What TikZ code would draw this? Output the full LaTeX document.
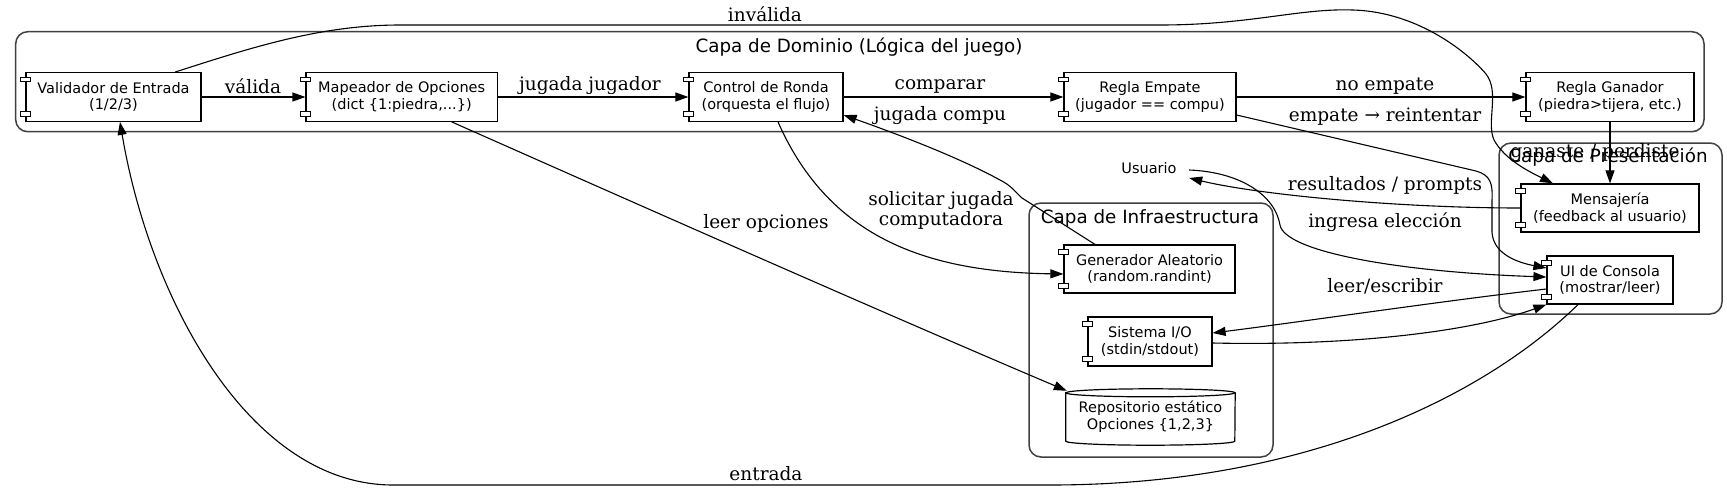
\documentclass[tikz,border=0pt]{standalone}
\usepackage{fontspec}
\newfontfamily\dvsans{DejaVu Sans}
\newfontfamily\dvserif{DejaVu Serif}
\usetikzlibrary{arrows.meta}
\definecolor{clusgray}{HTML}{404040}
\newcommand\cmpfont{\dvsans\fontsize{14.5}{16.7}\selectfont}
\newcommand\elfont{\dvserif\fontsize{18.5}{20}\selectfont}
\newcommand\ctfont{\dvsans\fontsize{18.3}{20}\selectfont}
\tikzset{
  comp/.style={draw, line width=1.2pt, fill=white, minimum height=48.6pt, inner sep=0pt, align=center, font=\cmpfont},
  lbl/.style={font=\elfont, inner sep=0pt, align=center},
  clus/.style={draw=clusgray, line width=1.5pt, rounded corners=12pt},
  ctitle/.style={font=\ctfont, inner sep=0pt},
  edge/.style={line width=1.1pt, -{Triangle[length=13pt,width=9pt]}},
  tab/.style={line width=1pt, fill=white},
}
\begin{document}
\begin{tikzpicture}[x=1pt,y=-1pt]
\useasboundingbox (0,0) rectangle (1727,491);
\fill[white] (0,0) rectangle (1727,491);

% clusters
\draw[clus] (15.7,31.7) rectangle (1704,131.7);
\node[ctitle] (tdom) at (859,46.7) {Capa de Dominio (Lógica del juego)};
\draw[clus] (1499,143) rectangle (1722,314);
\node[ctitle] (tpres) at (1608,157) {Capa de Presentación};
\draw[clus] (1029,203) rectangle (1273,457);
\node[ctitle] (tinf) at (1150,218) {Capa de Infraestructura};

% nodes
\node[comp, minimum width=175pt] (val) at (113.5,97) {Validador de Entrada\\(1/2/3)};
\node[comp, minimum width=191.3pt] (map) at (401.7,97) {Mapeador de Opciones\\(dict \{1:piedra,...\})};
\node[comp, minimum width=154pt] (ctl) at (766,97) {Control de Ronda\\(orquesta el flujo)};
\node[comp, minimum width=172pt] (emp) at (1150,97) {Regla Empate\\(jugador == compu)};
\node[comp, minimum width=168pt] (gan) at (1610,97) {Regla Ganador\\(piedra>tijera, etc.)};
\node[comp, minimum width=178pt, minimum height=48pt] (msg) at (1610,208) {Mensajería\\(feedback al usuario)};
\node[comp, minimum width=126pt, minimum height=48pt] (ui) at (1610,280) {UI de Consola\\(mostrar/leer)};
\node[comp, minimum width=171pt, minimum height=48pt] (gen) at (1149.5,269) {Generador Aleatorio\\(random.randint)};
\node[comp, minimum width=124pt, minimum height=49pt] (sio) at (1150,341.5) {Sistema I/O\\(stdin/stdout)};
\node[inner sep=0pt, minimum width=169pt, minimum height=56pt] (rep) at (1150.5,417) {};
\draw[line width=1.2pt, fill=white] ([yshift=-4pt]rep.north west) -- ([yshift=4pt]rep.south west)
  arc[start angle=180, end angle=360, x radius=84.5pt, y radius=4pt]
  -- ([yshift=-4pt]rep.north east)
  arc[start angle=0, end angle=180, x radius=84.5pt, y radius=4pt] -- cycle;
\draw[line width=1.2pt] ([yshift=-4pt]rep.north west) arc[start angle=180, end angle=360, x radius=84.5pt, y radius=4pt];
\node[inner sep=0pt, align=center, font=\cmpfont] (reptxt) at (rep.center) {Repositorio estático\\Opciones \{1,2,3\}};
\node[inner sep=0pt, minimum width=80pt, minimum height=36pt, font=\cmpfont] (usr) at (1149,168) {Usuario};

% component tabs
\foreach \n in {val,map,ctl,emp,gan,msg,ui,gen,sio} {
  \draw[tab] ([xshift=-4.7pt,yshift=-5pt]\n.north west) rectangle ++(9.4,4.6);
  \draw[tab] ([xshift=-4.7pt,yshift=5.6pt]\n.south west) rectangle ++(9.4,-4.6);
}

% edges
\draw[edge] (val.east) -- (map.west);
\node[lbl] (lvalida) at (253,86) {válida};
\draw[edge] (map.east) -- (ctl.west);
\node[lbl] (ljj) at (590,86) {jugada jugador};
\draw[edge] (ctl.east) -- (emp.west);
\node[lbl] (lcomp) at (940,86) {comparar};
\draw[edge] (emp.east) -- (gan.west);
\node[lbl] (lnoemp) at (1385,86) {no empate};
\draw[edge] (gan.south) -- (msg.north);
\node[lbl] (lgan) at (1595,153) {ganaste / perdiste};

\draw[edge] ([xshift=61.5pt]val.north) .. controls (250,48) and (320,25) .. (400,25)
  -- (1160,25) .. controls (1250,25) and (1300,8) .. (1353,10)
  .. controls (1420,12) and (1470,55) .. (1486,74)
  .. controls (1500,92) and (1486,122) .. (1494,140)
  .. controls (1505,160) and (1530,172) .. ([xshift=-57pt]msg.north);
\node[lbl] (linv) at (765,14) {inválida};

\draw[edge] ([yshift=-18pt]emp.east) -- (1476,171)
  .. controls (1490,175) and (1493,183) .. (1492,200) -- (1492,232)
  .. controls (1493,255) and (1520,263) .. ([yshift=12pt]ui.west);
\node[lbl] (lempr) at (1385,117) {empate → reintentar};

\draw[edge] ([xshift=-54.5pt]gen.north) -- (1022,198)
  .. controls (1015,192) and (1012,186) .. (1000,180)
  .. controls (960,158) and (900,135) .. ([yshift=-18pt]ctl.east);
\node[lbl] (ljc) at (940,116) {jugada compu};

\draw[edge] ([xshift=12pt]ctl.south) .. controls (830,240) and (930,272) .. ([yshift=-5pt]gen.west);
\node[lbl] (lsol) at (941,210) {solicitar jugada\\computadora};

\draw[edge] ([xshift=50pt]map.south) .. controls (700,232) and (900,320) .. ([xshift=1pt,yshift=-2pt]rep.north west);
\node[lbl] (lleer) at (766,223) {leer opciones};

\draw[edge] (msg.west) .. controls (1400,208) and (1260,195) .. ([yshift=-10pt]usr.east);
\node[lbl] (lres) at (1385,185) {resultados / prompts};

\draw[edge] ([yshift=-2pt]usr.east) .. controls (1240,172) and (1275,195) .. (1280,225)
  .. controls (1285,252) and (1400,272) .. ([yshift=3pt]ui.west);
\node[lbl] (ling) at (1385,222) {ingresa elección};

\draw[edge] ([yshift=-9pt]ui.west) .. controls (1450,300) and (1300,322) .. ([yshift=8.5pt]sio.east);
\node[lbl] (lle) at (1385,286) {leer/escribir};

\draw[edge] ([yshift=-1.5pt]sio.east) .. controls (1350,346) and (1470,332) .. (ui.south west);

\draw[edge] ([xshift=-32pt]ui.south) .. controls (1480,400) and (1300,485) .. (1050,485)
  -- (393,485) .. controls (250,485) and (150,300) .. ([xshift=6.5pt]val.south);
\node[lbl] (lent) at (766,474) {entrada};
\end{tikzpicture}
\end{document}
